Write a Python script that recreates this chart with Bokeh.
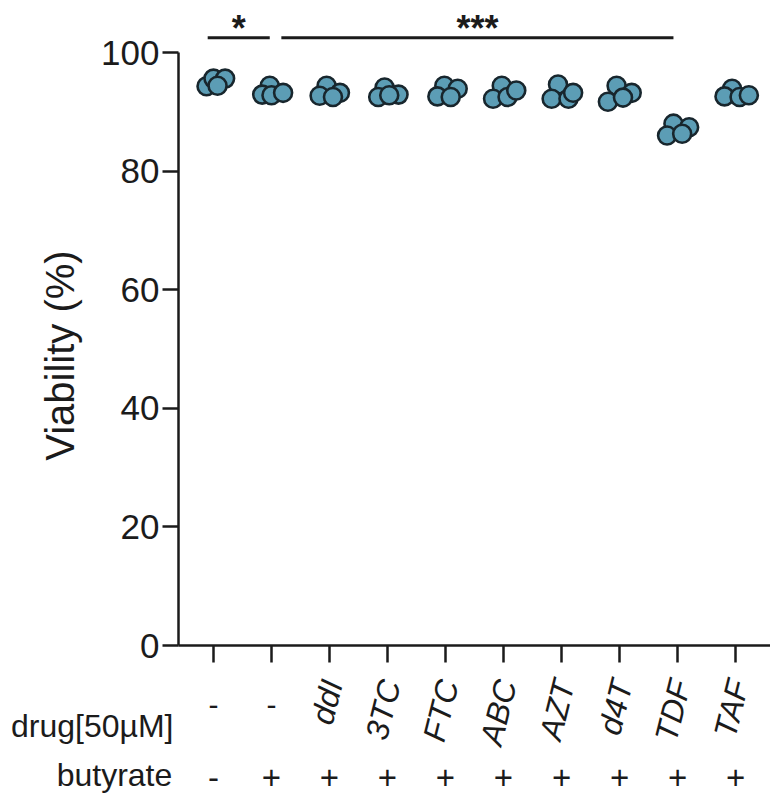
from bokeh.plotting import figure
from bokeh.models import Label, FixedTicker, ColumnDataSource
from bokeh.embed import file_html
from bokeh.resources import INLINE

# ---- data ----
categories = ["ctrl", "butyrate", "ddI", "3TC", "FTC", "ABC", "AZT", "d4T", "TDF", "TAF"]
drug_labels = ["-", "-", "ddI", "3TC", "FTC", "ABC", "AZT", "d4T", "TDF", "TAF"]
butyrate_labels = ["-", "+", "+", "+", "+", "+", "+", "+", "+", "+"]

viability = [
    [94.3, 95.6, 95.6, 94.4],
    [94.4, 92.9, 92.8, 93.2],
    [94.4, 92.7, 93.2, 92.5],
    [94.1, 92.5, 92.9, 92.8],
    [94.4, 92.6, 93.9, 92.5],
    [94.4, 92.2, 92.5, 93.6],
    [94.6, 92.2, 92.2, 93.2],
    [94.4, 91.7, 93.2, 92.4],
    [88.0, 86.0, 87.4, 86.3],
    [93.9, 92.6, 92.5, 92.8],
]
jitter = [
    [-0.12, 0.00, 0.20, 0.07],
    [-0.03, -0.16, 0.00, 0.20],
    [-0.05, -0.17, 0.18, 0.06],
    [-0.05, -0.16, 0.19, 0.03],
    [-0.02, -0.14, 0.21, 0.09],
    [-0.03, -0.18, 0.07, 0.22],
    [-0.06, -0.17, 0.12, 0.20],
    [-0.05, -0.20, 0.21, 0.06],
    [-0.07, -0.18, 0.20, 0.08],
    [-0.06, -0.19, 0.07, 0.23],
]
y_ticks = [0, 20, 40, 60, 80, 100]
sig_labels = ["*", "***"]

FONT = "Liberation Sans"
DARK = "#1b1b1b"

xs, ys = [], []
for i, (vals, jit) in enumerate(zip(viability, jitter)):
    for v, j in zip(vals, jit):
        xs.append(i + j)
        ys.append(v)
src = ColumnDataSource(dict(x=xs, y=ys))

X0 = -0.603   # left end of the category axis
p = figure(width=770, height=796, output_backend="svg", toolbar_location=None,
           x_range=(-3.672, 9.603), y_range=(-25.46, 108.77),
           min_border=0, min_border_left=0, min_border_right=0,
           min_border_top=0, min_border_bottom=0)
p.outline_line_color = None
p.grid.visible = False
p.background_fill_color = "white"
p.border_fill_color = "white"

# axes (placed inside the frame so that the row labels can be drawn around them)
p.yaxis.fixed_location = X0
p.yaxis.ticker = FixedTicker(ticks=y_ticks)
p.yaxis.bounds = (0, 100)
p.yaxis.major_label_text_font = FONT
p.yaxis.major_label_text_font_size = "35px"
p.yaxis.major_label_text_color = DARK
p.yaxis.major_tick_out = 16
p.yaxis.major_tick_in = 0
p.yaxis.minor_tick_out = 0
p.yaxis.minor_tick_in = 0
p.yaxis.major_label_standoff = 3
p.yaxis.axis_line_width = 2.5
p.yaxis.major_tick_line_width = 2.5
p.yaxis.axis_line_color = DARK
p.yaxis.major_tick_line_color = DARK

p.xaxis.fixed_location = 0
p.xaxis.ticker = FixedTicker(ticks=list(range(len(categories))))
p.xaxis.bounds = (X0, 9.603)
p.xaxis.major_label_overrides = {i: "" for i in range(len(categories))}
p.xaxis.major_tick_out = 17
p.xaxis.major_tick_in = 0
p.xaxis.minor_tick_out = 0
p.xaxis.minor_tick_in = 0
p.xaxis.axis_line_width = 2.5
p.xaxis.major_tick_line_width = 2.5
p.xaxis.axis_line_color = DARK
p.xaxis.major_tick_line_color = DARK

# points
p.scatter("x", "y", source=src, size=18, fill_color="#5c9db5", line_color="#18262d",
          line_width=2.6)

# significance brackets
brackets = [(-0.10, 0.97), (1.17, 7.93)]
for (x0, x1), lab in zip(brackets, sig_labels):
    p.segment(x0=[x0], y0=[102.5], x1=[x1], y1=[102.5], line_color=DARK, line_width=3)
    p.add_layout(Label(x=(x0 + x1) / 2, y=104.0, text=lab, text_font=FONT,
                       text_font_size="36px", text_font_style="bold", text_color=DARK,
                       text_align="center", text_baseline="alphabetic"))

# y axis title
p.add_layout(Label(x=-2.65, y=48.9, text="Viability (%)", angle=90, angle_units="deg",
                   text_font=FONT, text_font_size="40px", text_color=DARK,
                   text_align="center", text_baseline="middle"))

# row labels
p.add_layout(Label(x=-0.69, y=-13.6, text="drug[50µM]", text_font=FONT,
                   text_font_size="32px", text_color=DARK, text_align="right",
                   text_baseline="alphabetic"))
p.add_layout(Label(x=-0.71, y=-21.9, text="butyrate", text_font=FONT,
                   text_font_size="32px", text_color=DARK, text_align="right",
                   text_baseline="alphabetic"))

for i, (d, b) in enumerate(zip(drug_labels, butyrate_labels)):
    if d == "-":
        p.add_layout(Label(x=i, y=-10.0, text=d, text_font=FONT, text_font_size="30px",
                           text_color=DARK, text_align="center", text_baseline="middle"))
    else:
        p.add_layout(Label(x=i + 0.05, y=-5.9, text=d, angle=76, angle_units="deg",
                           text_font=FONT, text_font_size="32px", text_font_style="italic",
                           text_color=DARK, text_align="right", text_baseline="middle"))
    p.add_layout(Label(x=i, y=-22.2, text=b, text_font=FONT, text_font_size="33px",
                       text_color=DARK, text_align="center", text_baseline="middle"))

open("out.html", "w").write(file_html(p, INLINE))
